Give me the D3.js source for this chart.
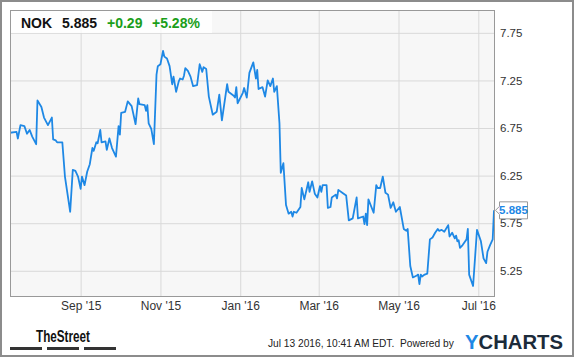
<!DOCTYPE html>
<html>
<head>
<meta charset="utf-8">
<script src="https://cdn.jsdelivr.net/npm/d3@7"></script>
<style>
  body { margin: 0; background: #fff; }
  svg { display: block; font-family: Arial, "Liberation Sans", sans-serif; }
</style>
</head>
<body>
<div id="chart"></div>
<script>
// header values
var symbol = "NOK";
var lastPrice = "5.885";
var change = "+0.29";
var changePct = "+5.28%";
var stamp = "Jul 13 2016, 10:41 AM EDT.  Powered by";

// price series
var dates = [
  "2015-07-09","2015-07-14","2015-07-15","2015-07-17","2015-07-20","2015-07-22","2015-07-24","2015-07-26",
  "2015-07-29","2015-07-30","2015-08-02","2015-08-04","2015-08-07","2015-08-10","2015-08-11","2015-08-13",
  "2015-08-14","2015-08-18","2015-08-20","2015-08-24","2015-08-26","2015-08-28","2015-08-30","2015-09-01",
  "2015-09-02","2015-09-04","2015-09-06","2015-09-08","2015-09-10","2015-09-11","2015-09-13","2015-09-14",
  "2015-09-16","2015-09-17","2015-09-20","2015-09-21","2015-09-23","2015-09-25","2015-09-28","2015-09-30",
  "2015-10-01","2015-10-02","2015-10-05","2015-10-07","2015-10-10","2015-10-13","2015-10-15","2015-10-16",
  "2015-10-20","2015-10-21","2015-10-22","2015-10-23","2015-10-25","2015-10-27","2015-10-29","2015-10-30",
  "2015-11-01","2015-11-03","2015-11-04","2015-11-06","2015-11-08","2015-11-10","2015-11-11","2015-11-13",
  "2015-11-15","2015-11-16","2015-11-18","2015-11-19","2015-11-20","2015-11-22","2015-11-24","2015-11-26",
  "2015-11-29","2015-12-01","2015-12-03","2015-12-04","2015-12-06","2015-12-08","2015-12-11","2015-12-14",
  "2015-12-16","2015-12-18","2015-12-22","2015-12-23","2015-12-27","2015-12-28","2015-12-29","2015-12-30",
  "2016-01-03","2016-01-04","2016-01-06","2016-01-08","2016-01-11","2016-01-13","2016-01-14","2016-01-15",
  "2016-01-18","2016-01-20","2016-01-22","2016-01-24","2016-01-26","2016-01-27","2016-01-29","2016-01-31",
  "2016-02-01","2016-02-03","2016-02-05","2016-02-07","2016-02-09","2016-02-10","2016-02-11","2016-02-13",
  "2016-02-16","2016-02-17","2016-02-19","2016-02-22","2016-02-23","2016-02-25","2016-02-27","2016-02-29",
  "2016-03-02","2016-03-03","2016-03-04","2016-03-07","2016-03-08","2016-03-10","2016-03-11","2016-03-14",
  "2016-03-15","2016-03-16","2016-03-19","2016-03-22","2016-03-24","2016-03-27","2016-03-30","2016-03-31",
  "2016-04-04","2016-04-05","2016-04-06","2016-04-07","2016-04-08","2016-04-12","2016-04-14","2016-04-15",
  "2016-04-17","2016-04-19","2016-04-21","2016-04-23","2016-04-25","2016-04-27","2016-04-29","2016-05-02",
  "2016-05-05","2016-05-07","2016-05-08","2016-05-10","2016-05-12","2016-05-15","2016-05-16","2016-05-17",
  "2016-05-18","2016-05-19","2016-05-21","2016-05-23","2016-05-25","2016-05-27","2016-05-29","2016-05-31",
  "2016-06-01","2016-06-03","2016-06-05","2016-06-08","2016-06-09","2016-06-11","2016-06-13","2016-06-14",
  "2016-06-15","2016-06-16","2016-06-17","2016-06-19","2016-06-21","2016-06-22","2016-06-23","2016-06-24",
  "2016-06-27","2016-06-30","2016-07-03","2016-07-05","2016-07-07","2016-07-08","2016-07-10","2016-07-12",
  "2016-07-13"
];
var prices = [
  6.70,6.71,6.64,6.78,6.77,6.69,6.73,6.66,
  6.58,7.04,6.97,6.86,6.78,6.86,6.63,6.62,
  6.60,6.60,6.24,5.87,6.31,6.30,6.24,6.11,
  6.24,6.15,6.29,6.37,6.54,6.51,6.60,6.59,
  6.73,6.60,6.61,6.52,6.64,6.54,6.45,6.77,
  6.68,6.91,6.92,7.03,6.98,6.79,7.06,7.00,
  6.99,6.93,6.99,6.80,6.74,6.58,7.31,7.40,
  7.42,7.56,7.50,7.48,7.40,7.21,7.29,7.13,
  7.24,7.27,7.26,7.30,7.38,7.35,7.29,7.19,
  7.20,7.42,7.34,7.39,7.37,7.08,6.89,6.92,
  7.10,6.83,7.21,7.13,7.09,7.07,7.18,7.01,
  7.12,7.17,7.07,7.33,7.44,7.27,7.36,7.16,
  7.18,7.08,7.25,7.19,7.27,7.13,7.19,6.80,
  6.28,6.38,5.94,5.85,5.87,5.82,5.87,5.86,
  5.92,6.12,6.00,6.18,6.08,6.19,6.06,6.02,
  6.14,6.08,6.15,6.15,5.91,5.92,6.02,6.05,
  6.01,6.10,6.07,6.04,5.78,5.80,6.02,5.80,
  5.82,5.74,5.85,5.73,6.00,5.86,6.15,6.12,
  6.12,6.24,6.07,6.05,5.91,5.97,5.87,5.92,
  5.69,5.67,5.69,5.30,5.18,5.20,5.21,5.11,
  5.21,5.19,5.21,5.22,5.58,5.60,5.65,5.69,
  5.67,5.68,5.66,5.73,5.61,5.65,5.59,5.62,
  5.56,5.57,5.49,5.52,5.56,5.58,5.69,5.21,
  5.09,5.68,5.56,5.38,5.33,5.45,5.52,5.58,
  5.885
];
var yTicks = [5.25, 5.75, 6.25, 6.75, 7.25, 7.75];

var W = 575, H = 358;
var margin = {top: 10, right: 81, bottom: 62, left: 10},
    width = W - margin.left - margin.right,
    height = H - margin.top - margin.bottom;

var parseDate = d3.timeParse("%Y-%m-%d");
var data = dates.map(function(d, i) { return {date: parseDate(d), value: prices[i]}; });

var x = d3.scaleTime()
    .domain([parseDate("2015-07-09"), parseDate("2016-07-13")])
    .range([0, width]);
var y = d3.scaleLinear().domain([4.985, 7.99]).range([height, 0]);

var svg = d3.select("#chart").append("svg")
    .attr("width", W)
    .attr("height", H);

// outer frame
svg.append("rect")
    .attr("x", 1).attr("y", 1)
    .attr("width", W - 3).attr("height", H - 3)
    .attr("fill", "#fff")
    .attr("stroke", "#8c8c8c")
    .attr("stroke-width", 2);

var g = svg.append("g")
    .attr("transform", "translate(" + margin.left + "," + margin.top + ")");

g.append("rect")
    .attr("width", width).attr("height", height)
    .attr("fill", "#f7f7f7");

var xTicks = d3.timeMonth.every(2).range(x.domain()[0], x.domain()[1]);

// grid
g.append("g")
    .attr("class", "grid")
    .attr("transform", "translate(0," + height + ")")
    .call(d3.axisBottom(x).tickValues(xTicks).tickSize(-height).tickFormat(""))
    .call(function(s) { s.select(".domain").remove(); });
g.append("g")
    .attr("class", "grid")
    .call(d3.axisRight(y).tickValues(yTicks).tickSize(width).tickFormat(""))
    .call(function(s) { s.select(".domain").remove(); });
g.selectAll(".grid line").attr("stroke", "#d9d9d9").attr("stroke-width", 1);

// price line
g.append("clipPath").attr("id", "clip")
  .append("rect").attr("width", width).attr("height", height);

var line = d3.line()
    .x(function(d) { return x(d.date); })
    .y(function(d) { return y(d.value); });

g.append("path")
    .datum(data)
    .attr("clip-path", "url(#clip)")
    .attr("fill", "none")
    .attr("stroke", "#1e88e5")
    .attr("stroke-width", 1.8)
    .attr("stroke-linejoin", "round")
    .attr("d", line);

// plot border
g.append("rect")
    .attr("x", 0.5).attr("y", 0.5)
    .attr("width", width).attr("height", height)
    .attr("fill", "none")
    .attr("stroke", "#999");

// axes labels
var xAxis = g.append("g")
    .attr("transform", "translate(0," + height + ")")
    .call(d3.axisBottom(x).tickValues(xTicks).tickSize(0).tickPadding(5)
      .tickFormat(d3.timeFormat("%b '%y")));
xAxis.select(".domain").remove();
xAxis.selectAll("text").attr("font-size", 12).attr("fill", "#333").attr("font-family", null);

var yAxis = g.append("g")
    .attr("transform", "translate(" + width + ",0)")
    .call(d3.axisRight(y).tickValues(yTicks).tickSize(0).tickPadding(6)
      .tickFormat(d3.format(".2f")));
yAxis.select(".domain").remove();
yAxis.selectAll("text").attr("font-size", 11.5).attr("fill", "#333").attr("font-family", null);

// last value flag
var last = data[data.length - 1];
var ly = margin.top + y(last.value), lx = margin.left + x(last.date) + 1.5;
svg.append("path")
    .attr("d", "M" + lx + "," + ly + "L" + (lx + 4) + "," + (ly - 4) + "V" + (ly - 8.5) +
      "H" + (lx + 32) + "V" + (ly + 8.5) + "H" + (lx + 4) + "V" + (ly + 4) + "Z")
    .attr("fill", "#fff")
    .attr("stroke", "#999");
svg.append("text")
    .attr("x", lx + 18).attr("y", ly)
    .attr("dy", "0.36em")
    .attr("text-anchor", "middle")
    .attr("font-size", 11.5)
    .attr("font-weight", "bold")
    .attr("fill", "#1e88e5")
    .text(lastPrice);

// header box
svg.append("rect")
    .attr("x", 11).attr("y", 11)
    .attr("width", 201).attr("height", 22)
    .attr("fill", "#fff")
    .attr("opacity", 0.8);
var head = svg.append("text")
    .attr("y", 28)
    .attr("font-size", 14)
    .attr("font-weight", "bold");
head.append("tspan").attr("x", 21).attr("fill", "#111").text(symbol);
head.append("tspan").attr("x", 62).attr("fill", "#111").text(lastPrice);
head.append("tspan").attr("x", 107).attr("fill", "#1a9e1a").text(change);
head.append("tspan").attr("x", 152).attr("fill", "#1a9e1a").text(changePct);

// footer
svg.append("text")
    .attr("x", 36).attr("y", 342)
    .attr("font-family", "'Liberation Sans Narrow', 'Arial Narrow', sans-serif")
    .attr("font-size", 16)
    .attr("font-weight", "bold")
    .attr("fill", "#111")
    .attr("textLength", 54)
    .attr("lengthAdjust", "spacingAndGlyphs")
    .text("TheStreet");
[10, 47, 84].forEach(function(bx) {
  svg.append("rect")
      .attr("x", bx).attr("y", 347)
      .attr("width", 32).attr("height", 3)
      .attr("fill", "#333");
});

svg.append("text")
    .attr("x", 268).attr("y", 347)
    .attr("font-size", 10.2)
    .attr("fill", "#222")
    .style("white-space", "pre")
    .text(stamp);

var logo = svg.append("text")
    .attr("x", 465).attr("y", 349)
    .attr("font-size", 20)
    .attr("font-weight", "bold")
    .attr("textLength", 98)
    .attr("lengthAdjust", "spacingAndGlyphs");
logo.append("tspan").attr("fill", "#1e88e5").text("Y");
logo.append("tspan").attr("fill", "#1c2b3a").text("CHARTS");
</script>
</body>
</html>
